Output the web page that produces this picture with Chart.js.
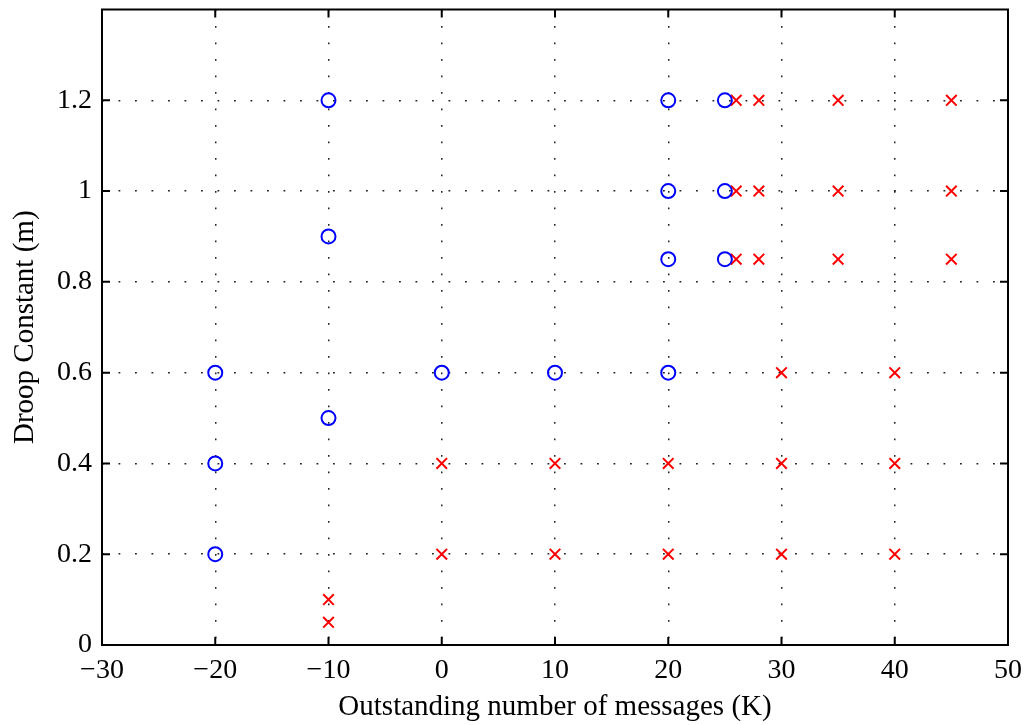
<!DOCTYPE html>
<html>
<head>
<meta charset="utf-8">
<script src="https://cdn.jsdelivr.net/npm/chart.js@4"></script>
<style>
  html, body { margin: 0; padding: 0; background: #fff; }
  #wrap { width: 1031px; height: 725px; }
</style>
</head>
<body>
<div id="wrap"><canvas id="chart"></canvas></div>
<script>
// stable points (blue circles)
const stableX = [-10, 20, 25, 20, 25, -10, 20, 25, -20, 0, 10, 20, -10, -20, -20];
const stableY = [1.2, 1.2, 1.2, 1, 1, 0.9, 0.85, 0.85, 0.6, 0.6, 0.6, 0.6, 0.5, 0.4, 0.2];

// unstable points (red crosses)
const unstableX = [26, 28, 35, 45, 26, 28, 35, 45, 26, 28, 35, 45, 30, 40,
                   0, 10, 20, 30, 40, 0, 10, 20, 30, 40, -10, -10];
const unstableY = [1.2, 1.2, 1.2, 1.2, 1, 1, 1, 1, 0.85, 0.85, 0.85, 0.85, 0.6, 0.6,
                   0.4, 0.4, 0.4, 0.4, 0.4, 0.2, 0.2, 0.2, 0.2, 0.2, 0.1, 0.05];

const xTicks = [-30, -20, -10, 0, 10, 20, 30, 40, 50];
const yTicks = [0, 0.2, 0.4, 0.6, 0.8, 1, 1.2];

const xTitle = 'Outstanding number of messages (K)';
const yTitle = 'Droop Constant (m)';

const toPoints = (xs, ys) => xs.map((x, i) => ({ x: x, y: ys[i] }));
const fmt = v => String(Math.round(v * 100) / 100).replace('-', '\u2212');

const serif = '"Liberation Serif", "DejaVu Serif", serif';

// matlab-like box with inward ticks
const boxPlugin = {
    id: 'box',
    afterDraw(chart) {
        const { ctx, chartArea: a, scales } = chart;
        ctx.save();
        ctx.strokeStyle = '#000';
        ctx.lineWidth = 2;
        ctx.strokeRect(a.left, a.top, a.right - a.left, a.bottom - a.top);
        const len = 8;
        ctx.beginPath();
        scales.x.ticks.forEach(t => {
            const px = scales.x.getPixelForValue(t.value);
            ctx.moveTo(px, a.bottom); ctx.lineTo(px, a.bottom - len);
            ctx.moveTo(px, a.top); ctx.lineTo(px, a.top + len);
        });
        scales.y.ticks.forEach(t => {
            const py = scales.y.getPixelForValue(t.value);
            ctx.moveTo(a.left, py); ctx.lineTo(a.left + len, py);
            ctx.moveTo(a.right, py); ctx.lineTo(a.right - len, py);
        });
        ctx.stroke();
        ctx.restore();
    }
};

const noPad = s => {
    s.paddingTop = 0; s.paddingBottom = 0;
    s.paddingLeft = 0; s.paddingRight = 0;
};

new Chart(document.getElementById('chart'), {
    type: 'scatter',
    data: {
        datasets: [{
            label: 'stable',
            data: toPoints(stableX, stableY),
            pointStyle: 'circle',
            pointRadius: 7,
            pointHoverRadius: 7,
            borderColor: '#0000ff',
            backgroundColor: 'rgba(0,0,0,0)',
            borderWidth: 2
        }, {
            label: 'unstable',
            data: toPoints(unstableX, unstableY),
            pointStyle: 'crossRot',
            pointRadius: 7.5,
            pointHoverRadius: 7.5,
            borderColor: '#ff0000',
            backgroundColor: '#ff0000',
            borderWidth: 2
        }]
    },
    options: {
        responsive: true,
        maintainAspectRatio: false,
        animation: false,
        layout: { padding: { top: 8, right: 23, left: 0, bottom: 0 } },
        plugins: {
            legend: { display: false },
            tooltip: { enabled: false }
        },
        scales: {
            x: {
                type: 'linear',
                min: -30,
                max: 50,
                afterBuildTicks: s => { s.ticks = xTicks.map(v => ({ value: v })); },
                afterFit: s => { s.height = 80; noPad(s); },
                grid: { color: '#222', lineWidth: 1.5, drawTicks: false },
                border: { display: false, dash: [1.8, 14.7] },
                ticks: {
                    color: '#000',
                    padding: 9,
                    font: { family: serif, size: 28 },
                    callback: v => fmt(v)
                },
                title: {
                    display: true,
                    text: xTitle,
                    color: '#000',
                    padding: { top: 2, bottom: 0 },
                    font: { family: serif, size: 29 }
                }
            },
            y: {
                type: 'linear',
                min: 0,
                max: 1.4,
                afterBuildTicks: s => { s.ticks = yTicks.map(v => ({ value: v })); },
                afterFit: s => { s.width = 102; noPad(s); },
                grid: { color: '#222', lineWidth: 1.5, drawTicks: false },
                border: { display: false, dash: [1.8, 14.7] },
                ticks: {
                    color: '#000',
                    padding: 10,
                    font: { family: serif, size: 28 },
                    callback: v => fmt(v)
                },
                title: {
                    display: true,
                    text: yTitle,
                    color: '#000',
                    padding: { top: 8, bottom: 0 },
                    font: { family: serif, size: 29 }
                }
            }
        }
    },
    plugins: [boxPlugin]
});
</script>
</body>
</html>
